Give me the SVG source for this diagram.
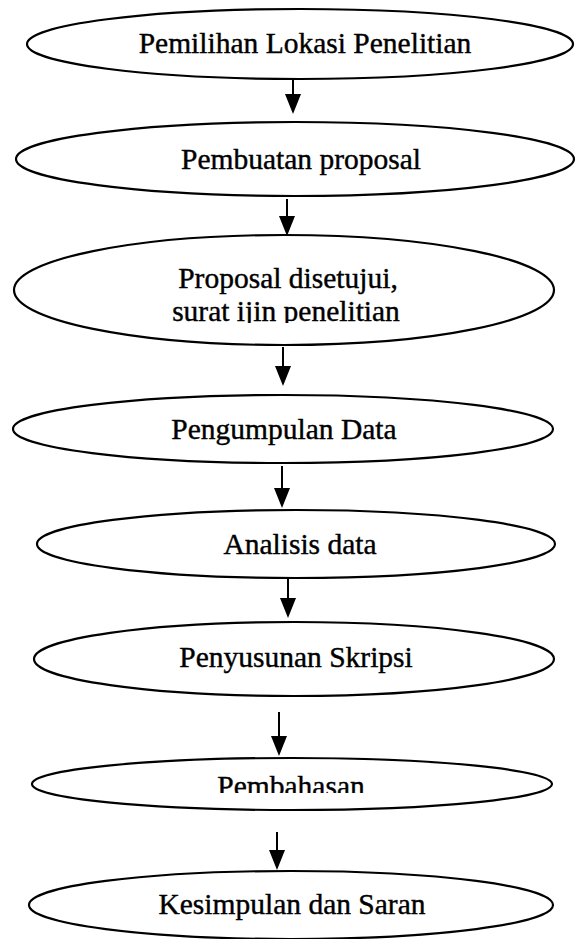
<svg xmlns="http://www.w3.org/2000/svg" width="576" height="939" viewBox="0 0 576 939">
<style>
.node ellipse{fill:#fff;stroke:#000;stroke-width:2.2}
.node text{font-family:"Liberation Serif","Times New Roman",serif;font-size:29.5px;fill:#000;stroke:#000;stroke-width:0.4;text-anchor:middle}
.conn line{stroke:#000;stroke-width:2}
</style>
<defs>
<marker id="ah" markerUnits="userSpaceOnUse" markerWidth="20" markerHeight="16" viewBox="0 -8 20 16" refX="0" refY="0" orient="auto">
<path d="M0,-8 L20,0 L0,8 Z" fill="#000"/>
</marker>
<clipPath id="clip3"><rect x="0" y="240" width="576" height="83"/></clipPath>
<clipPath id="clip7"><rect x="0" y="760" width="576" height="33"/></clipPath>
</defs>
<rect width="576" height="939" fill="#fff"/>
<g class="conn">
<line x1="293" y1="80" x2="293" y2="94" marker-end="url(#ah)"/>
<line x1="287" y1="199" x2="287" y2="216" marker-end="url(#ah)"/>
<line x1="283" y1="347" x2="283" y2="366" marker-end="url(#ah)"/>
<line x1="282" y1="466" x2="282" y2="488" marker-end="url(#ah)"/>
<line x1="288" y1="579" x2="288" y2="598" marker-end="url(#ah)"/>
<line x1="279" y1="712" x2="279" y2="736" marker-end="url(#ah)"/>
<line x1="277" y1="832" x2="277" y2="850" marker-end="url(#ah)"/>
</g>
<g id="n1" class="node"><ellipse cx="300" cy="44" rx="273" ry="35"/><text x="305" y="53">Pemilihan Lokasi Penelitian</text></g>
<g id="n2" class="node"><ellipse cx="295" cy="159" rx="279" ry="37"/><text x="301" y="169">Pembuatan proposal</text></g>
<g id="n3" class="node"><ellipse cx="284" cy="290" rx="270" ry="55"/><text x="288" y="288">Proposal disetujui,</text><text x="286" y="321" clip-path="url(#clip3)">surat ijin penelitian</text></g>
<g id="n4" class="node"><ellipse cx="283" cy="429" rx="270" ry="34"/><text x="284" y="439">Pengumpulan Data</text></g>
<g id="n5" class="node"><ellipse cx="296" cy="544" rx="259" ry="34"/><text x="300" y="554">Analisis data</text></g>
<g id="n6" class="node"><ellipse cx="294" cy="659" rx="260" ry="37"/><text x="296" y="667">Penyusunan Skripsi</text></g>
<g id="n7" class="node"><ellipse cx="292" cy="784" rx="260" ry="26"/><text x="291" y="796" clip-path="url(#clip7)">Pembahasan</text></g>
<g id="n8" class="node"><ellipse cx="291" cy="905" rx="262" ry="34"/><text x="292" y="914">Kesimpulan dan Saran</text></g>
</svg>
